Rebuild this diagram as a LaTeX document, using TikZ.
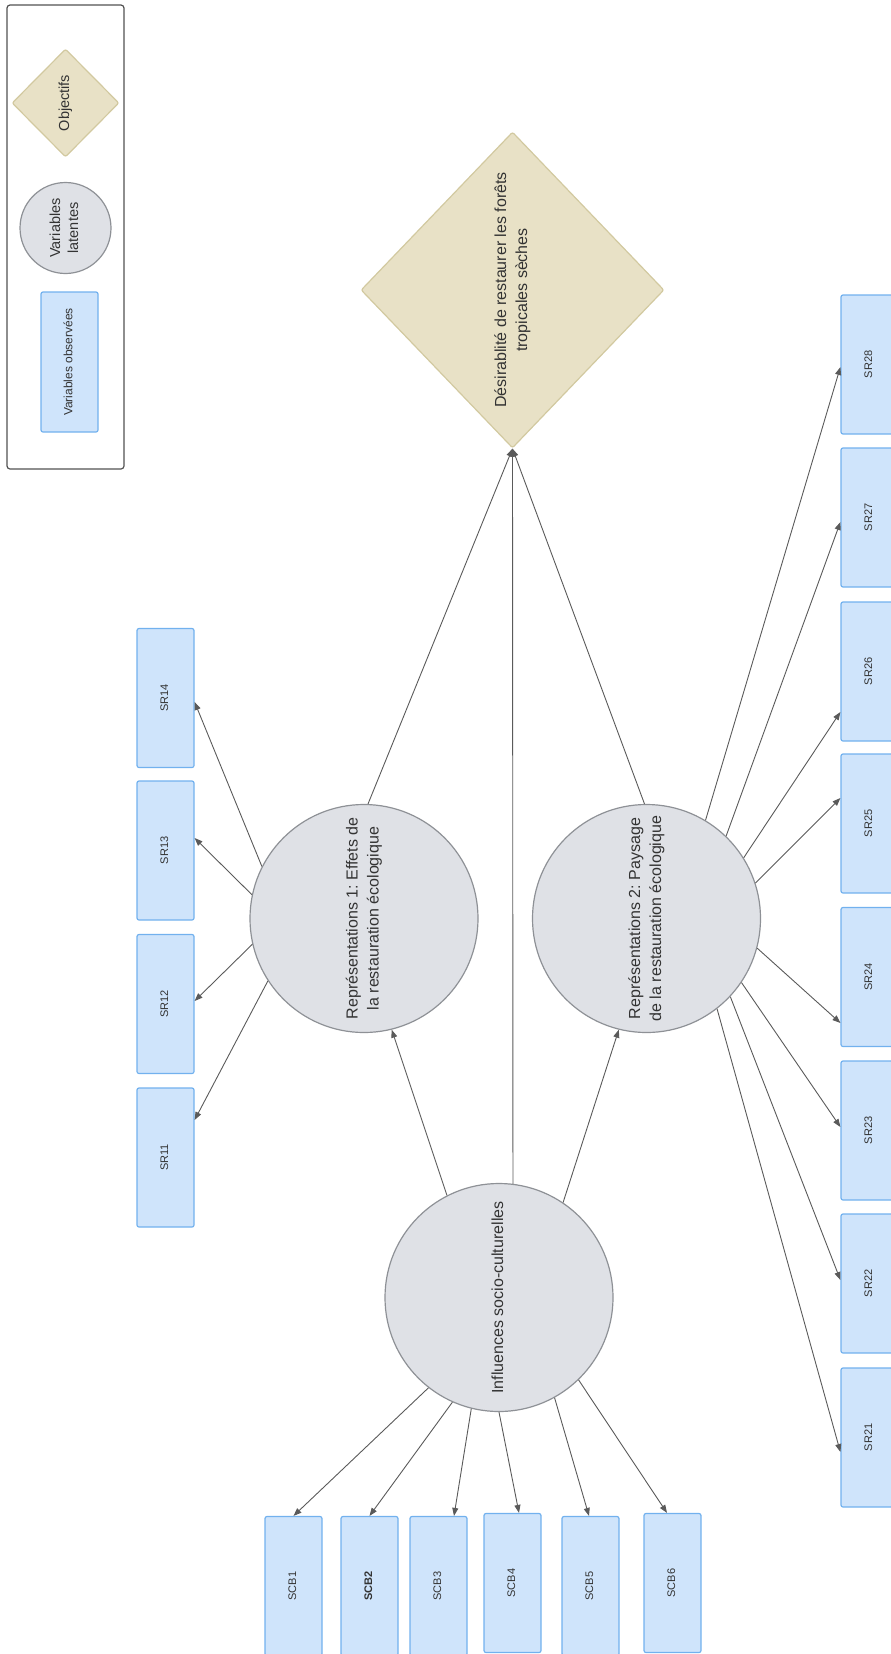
\documentclass[tikz,border=0pt]{standalone}
\usepackage{fontspec}
\setmainfont{Liberation Sans}
\usepackage{tikz}
\usetikzlibrary{arrows.meta, shapes.geometric}
\definecolor{obsblue}{HTML}{CFE4FB}
\definecolor{obsedge}{HTML}{72B1EE}
\definecolor{latgrey}{HTML}{DFE1E6}
\definecolor{latedge}{HTML}{8E9196}
\definecolor{objsand}{HTML}{E8E1C6}
\definecolor{objedge}{HTML}{D2C9A0}
\definecolor{arrowgrey}{HTML}{5A5A5A}
\definecolor{textgrey}{HTML}{333333}
\frenchspacing
\newcommand{\vlabel}[1]{\rotatebox{90}{\begin{tabular}{@{}c@{}}#1\end{tabular}}}
\tikzset{
  obsbox/.style={rectangle, rounded corners=2pt, draw=obsedge, fill=obsblue,
    line width=1.2pt, minimum width=57pt, minimum height=139pt, inner sep=0pt,
    text=textgrey, font=\fontsize{11}{13}\selectfont},
  latent/.style={circle, draw=latedge, fill=latgrey, line width=1.2pt,
    minimum size=228pt, inner sep=0pt, text=textgrey,
    font=\fontsize{16}{21}\selectfont},
  objective/.style={diamond, draw=objedge, fill=objsand, line width=1.2pt,
    rounded corners=2pt, inner sep=0pt, text=textgrey,
    font=\fontsize{16}{21}\selectfont},
  link/.style={draw=arrowgrey, line width=0.9pt, -{Triangle[length=8pt, width=6pt]}}
}

\begin{document}
\begin{tikzpicture}[x=1pt, y=-1pt]
  \useasboundingbox (0,0) rectangle (891,1654);
  % legend
  \draw[draw=textgrey!85, line width=1.2pt, rounded corners=3pt] (7,5) rectangle (124,469);
  \node[objective, minimum width=107pt, minimum height=108pt, font=\fontsize{14.5}{18}\selectfont]
    (legobj) at (65.5,103) {\vlabel{Objectifs}};
  \node[latent, minimum size=91pt, font=\fontsize{14.5}{18}\selectfont]
    (leglat) at (65.5,228) {\vlabel{Variables\\latentes}};
  \node[obsbox, minimum height=140pt, font=\fontsize{12}{14}\selectfont]
    (legobs) at (69.5,362) {\vlabel{Variables observées}};

  % objective and latent variables
  \node[objective, minimum width=303pt, minimum height=316pt] (desir) at (512.5,290)
    {\vlabel{Désirablité de restaurer les forêts\\tropicales sèches}};
  \node[latent] (influ) at (499,1297.5) {\vlabel{Influences socio-culturelles}};
  \node[latent] (rep1) at (364,918.5)
    {\vlabel{Représentations 1: Effets de\\la restauration écologique}};
  \node[latent] (rep2) at (646.5,918.5)
    {\vlabel{Représentations 2: Paysage\\de la restauration écologique}};

  % observed variables
  \foreach \n/\x/\y/\t in {1/293.5/1586/SCB1, 2/369.5/1586/\textbf{SCB2}, 3/438.5/1586/SCB3,
      4/512.5/1583/SCB4, 5/590.5/1586/SCB5, 6/672.5/1583/SCB6}
    \node[obsbox] (scb\n) at (\x,\y) {\vlabel{\t}};
  \foreach \n/\y in {4/698, 3/850.5, 2/1004, 1/1157.5}
    \node[obsbox] (sr1\n) at (165.5,\y) {\vlabel{SR1\n}};
  \foreach \n/\y in {8/364.5, 7/517.5, 6/671.5, 5/823.5, 4/977, 3/1130.5, 2/1283.5, 1/1437.5}
    \node[obsbox] (sr2\n) at (869.5,\y) {\vlabel{SR2\n}};

  % paths
  \draw[link] (influ.117) -- (rep1.-76);
  \draw[link] (influ.56) -- (rep2.256);
  \draw[link] (influ.83) -- (desir.south);
  \draw[link] (rep1.88) -- (desir.south);
  \draw[link] (rep2.91) -- (desir.south);
  \foreach \n/\a/\s in {1/232.5/0, 2/246/0, 3/256.5/15.5, 4/270/6.5, 5/299/-1.5, 6/314/-5.5}
    \draw[link] (influ.\a) -- ([xshift=\s pt]scb\n.north);
  \foreach \n/\a/\s in {4/153/-4, 3/168/12.5, 2/193/3, 1/213/37.5}
    \draw[link] (rep1.\a) -- ([yshift=\s pt]sr1\n.east);
  \foreach \n/\a/\s in {8/59/-2.5, 7/46/-4.5, 6/32/-40.5, 5/18/25.5,
      4/-15/-46, 3/-34/3.5, 2/-43/3.5, 1/-52/-14.5}
    \draw[link] (rep2.\a) -- ([yshift=\s pt]sr2\n.west);
\end{tikzpicture}
\end{document}
